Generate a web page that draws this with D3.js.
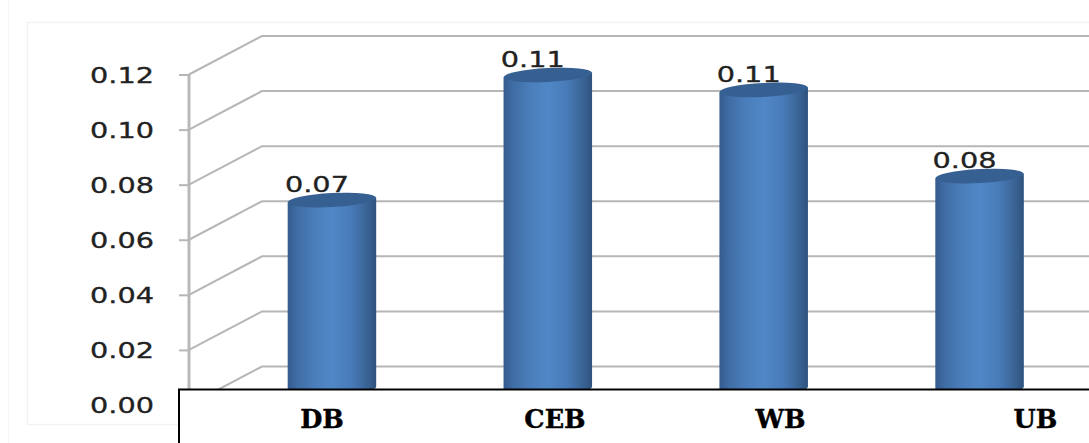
<!DOCTYPE html>
<html>
<head>
<meta charset="utf-8">
<script src="https://cdn.jsdelivr.net/npm/d3@7"></script>
<style>
html,body{margin:0;padding:0;background:#fff;overflow:hidden}
svg{display:block}
</style>
</head>
<body>
<svg id="chart" width="1089" height="443"></svg>
<script>
const categories = ["DB", "CEB", "WB", "UB"];
const values = [0.0686, 0.114, 0.1086, 0.0773];
const tickValues = [0, 0.02, 0.04, 0.06, 0.08, 0.10, 0.12];

const svg = d3.select("#chart");
const W = 1089, H = 443;

// Oblique projection of the 3D plot box: front axis plane plus a shifted back wall
const depthX = 73, depthY = -38.5;
const barDepthY = -16;
const y = d3.scaleLinear().domain([0, 0.12]).range([405, 74.5]);
const x = d3.scaleBand().domain(categories).range([224, 1087.5]).paddingInner(0.59).paddingOuter(0.295);
const frontX = 189;
const boxTop = 389.5, boxLeft = 179;
const gridColor = "#b6b6b6";
const barRx = x.bandwidth() / 2, barRy = 7, tilt = -3;
const numberWidth = 64;

// Category captions sit inside the white strip at their own offsets
const captionX = d3.scaleOrdinal().domain(categories).range([322, 555, 780.5, 1035.5]);

// Gradient for the cylinder body
const defs = svg.append("defs");
const body = defs.append("linearGradient").attr("id", "cyl");
[[0, "#345b8d"], [0.1, "#3f6ca3"], [0.3, "#4a7ebb"], [0.5, "#5087c6"], [0.72, "#487bb8"],
 [0.9, "#3a6394"], [1, "#2f527e"]].forEach(([o, c]) =>
  body.append("stop").attr("offset", o).attr("stop-color", c));

// Faint panel outlines
svg.append("rect").attr("x", 8.5).attr("y", -5).attr("width", W).attr("height", H + 10)
  .attr("fill", "none").attr("stroke", "#f6f6f6").attr("stroke-width", 1.5);
svg.append("rect").attr("x", 27.5).attr("y", 22.5).attr("width", W).attr("height", 402)
  .attr("fill", "none").attr("stroke", "#f2f2f2").attr("stroke-width", 1.5);

// Back wall gridlines and the side-wall diagonals
const grid = svg.append("g").attr("fill", "none").attr("stroke", gridColor).attr("stroke-width", 2);
grid.selectAll("path.wall").data(tickValues).join("path").attr("class", "wall")
  .attr("d", v => d3.line()([[frontX, y(v)], [frontX + depthX, y(v) + depthY], [W, y(v) + depthY]]));

// Horizontally stretched numerals shared by the axis and the value labels
const styleNumber = sel => sel
  .attr("font-family", "'DejaVu Sans', sans-serif").attr("font-size", 20.5)
  .attr("fill", "#222").attr("stroke", "#222").attr("stroke-width", 0.3)
  .attr("textLength", numberWidth).attr("lengthAdjust", "spacingAndGlyphs");

// Value axis on the front plane
const axis = svg.append("g").attr("transform", `translate(${frontX},0)`)
  .call(d3.axisLeft(y).tickValues(tickValues).tickFormat(d3.format(".2f")).tickSize(10).tickPadding(25));
axis.select(".domain").attr("stroke", "#b9b9b9").attr("stroke-width", 3).attr("d", `M0,${y(0.12)}V${y(0)}`);
axis.selectAll(".tick line").attr("stroke", "#b6b6b6").attr("stroke-width", 2);
axis.selectAll(".tick text").call(styleNumber).attr("dy", "0.38em");

const barTop = v => y(v) + barDepthY;
const cx = c => x(c) + barRx;
const rows = categories.map((c, i) => ({ c, v: values[i] }));

// Value labels go underneath the cylinders, whose caps overlap them slightly
svg.append("g").selectAll("text").data(rows).join("text")
  .attr("x", d => cx(d.c) - 15)
  .attr("y", d => barTop(d.v) - 8)
  .attr("text-anchor", "middle")
  .call(styleNumber)
  .text(d => d3.format(".2f")(d.v));

// Cylinders: side wall closed by tilted elliptical arcs, then the darker cap
const bars = svg.append("g").selectAll("g").data(rows).join("g");
const rise = barRx * Math.sin(-tilt * Math.PI / 180);
bars.append("path")
  .attr("fill", "url(#cyl)")
  .attr("d", d => {
    const l = x(d.c), r = l + 2 * barRx, t = barTop(d.v), b = y(0) + barDepthY;
    return `M${l},${t + rise}L${l},${b + rise}A${barRx},${barRy} ${tilt} 0 0 ${r},${b - rise}L${r},${t - rise}Z`;
  });
bars.append("ellipse")
  .attr("rx", barRx).attr("ry", barRy)
  .attr("transform", d => `translate(${cx(d.c)},${barTop(d.v)}) rotate(${tilt})`)
  .attr("fill", "#376092");

// White strip carrying the category captions
svg.append("rect").attr("x", boxLeft).attr("y", boxTop)
  .attr("width", W - boxLeft + 10).attr("height", H)
  .attr("fill", "#fff").attr("stroke", "#000").attr("stroke-width", 2);
svg.append("g").selectAll("text").data(categories).join("text")
  .attr("x", c => captionX(c)).attr("y", 428)
  .attr("text-anchor", "middle")
  .attr("font-family", "'DejaVu Serif', serif").attr("font-weight", "bold").attr("font-size", 25.5)
  .attr("fill", "#000").attr("stroke", "#000").attr("stroke-width", 0.4)
  .text(c => c);
</script>
</body>
</html>
